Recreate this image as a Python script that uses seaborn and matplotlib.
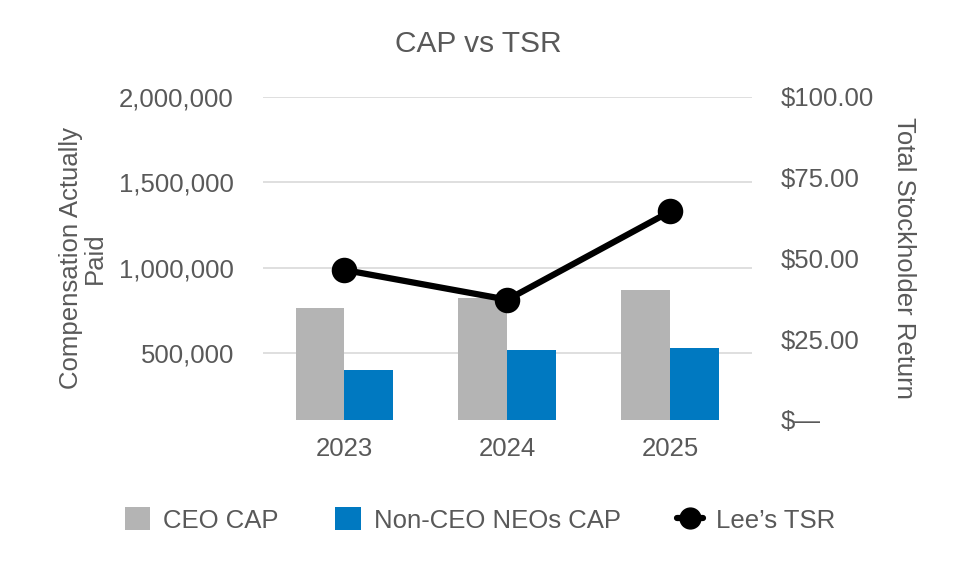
import matplotlib
matplotlib.use("Agg")
import matplotlib.pyplot as plt
import seaborn as sns
import pandas as pd
from matplotlib.patches import Patch
from matplotlib.lines import Line2D
from matplotlib.ticker import FuncFormatter

years = ["2023", "2024", "2025"]
ceo_cap = [762000, 824000, 869000]
neo_cap = [401000, 518000, 531000]
tsr = [46.4, 37.2, 64.5]
series_names = ["CEO CAP", "Non-CEO NEOs CAP"]
left_ticks = [500000, 1000000, 1500000, 2000000]
right_ticks = [0, 25, 50, 75, 100]

GRAY = "#b4b4b4"
BLUE = "#0079c1"
TXT = "#595959"

sns.set_theme(style="white")
plt.rcParams["font.family"] = ["Liberation Sans", "DejaVu Sans"]

df = pd.DataFrame({
    "Year": years * 2,
    "Value": ceo_cap + neo_cap,
    "Series": [series_names[0]] * 3 + [series_names[1]] * 3,
})

fig = plt.figure(figsize=(9.6, 5.76), dpi=100)
ax = fig.add_axes([0.274, 0.271, 0.509, 0.561])

sns.barplot(data=df, x="Year", y="Value", hue="Series", ax=ax,
            palette=[GRAY, BLUE], width=0.6, gap=0, saturation=1,
            legend=False, linewidth=0, zorder=2)
ax.set_ylim(108000, 2000000)
ax.set_yticks(left_ticks)
ax.yaxis.set_major_formatter(FuncFormatter(lambda v, p: f"{int(v):,}"))
ax.grid(axis="y", color="#d9d9d9", linewidth=1.2, zorder=0)
ax.set_axisbelow(True)
ax.tick_params(axis="both", length=0, labelsize=18.5, colors=TXT)
ax.tick_params(axis="y", pad=21)
ax.tick_params(axis="x", pad=12)
ax.set_xlabel("")
ax.set_ylabel("Compensation Actually\nPaid", fontsize=18.5, color=TXT,
              linespacing=0.95, labelpad=9)
for s in ax.spines.values():
    s.set_visible(False)

ax2 = ax.twinx()
sns.pointplot(x=years, y=tsr, ax=ax2, color="black", markers="o",
              markersize=15, linewidth=4.5, errorbar=None)
ax2.set_ylim(0, 100)
ax2.set_yticks(right_ticks)
ax2.set_yticklabels(["$—" if t == 0 else f"${t:.2f}" for t in right_ticks])
ax2.tick_params(axis="y", length=0, labelsize=18.5, colors=TXT, pad=21)
ax2.set_ylabel("Total Stockholder Return", fontsize=18.5, color=TXT,
               rotation=-90, labelpad=30)
for s in ax2.spines.values():
    s.set_visible(False)
ax.set_xlim(-0.5, 2.5)

fig.text(0.498, 0.924, "CAP vs TSR", ha="center", va="center",
         fontsize=21.5, color=TXT)

handles = [
    Patch(facecolor=GRAY, edgecolor="none"),
    Patch(facecolor=BLUE, edgecolor="none"),
    Line2D([0], [0], color="black", linewidth=4.5, marker="o", markersize=15),
]
fig.legend(handles, series_names + ["Lee’s TSR"], loc="center",
           bbox_to_anchor=(0.5, 0.097), ncol=3, frameon=False,
           fontsize=18.5, labelcolor=TXT, handlelength=1.0, handleheight=1.0,
           handletextpad=0.5, columnspacing=2.2)

fig.savefig("out.png", dpi=100)
